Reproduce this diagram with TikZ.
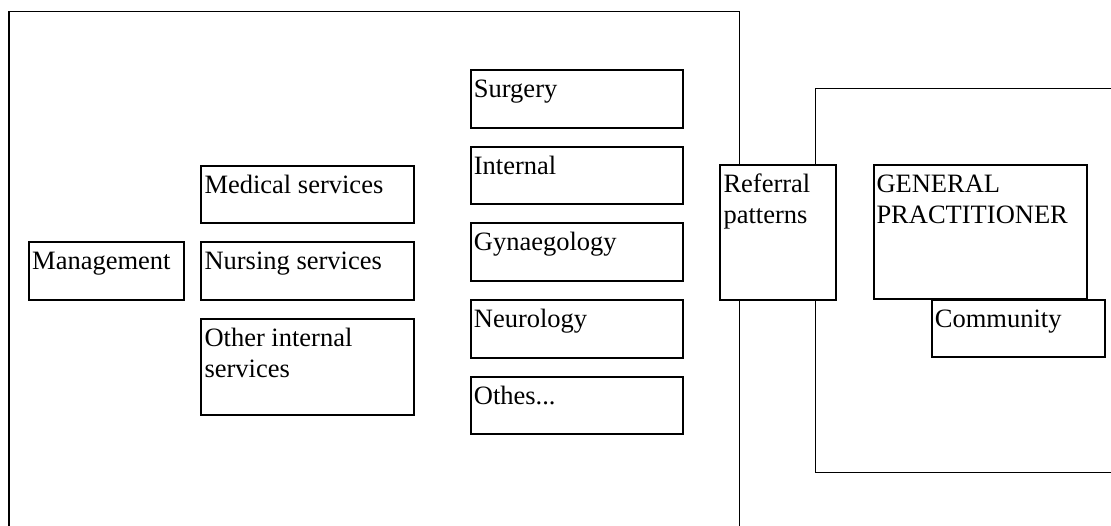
\documentclass[tikz,border=0pt]{standalone}
\usepackage{fontspec}
\setmainfont{Liberation Serif}
\begin{document}
\begin{tikzpicture}[x=1pt,y=-1pt,
  frame/.style={draw, line width=1.5pt},
  box/.style={draw, line width=2pt, fill=white, inner sep=0pt, anchor=north west},
  txt/.style={anchor=base west, inner sep=0pt, align=left, font=\fontsize{26.5}{31}\selectfont}]
\useasboundingbox (0,0) rectangle (1111,525);
\clip (0,0) rectangle (1111,525);
% hospital and primary-care frames, running past the page edges
\draw[frame] (9,11.7) rectangle (739.3,560);
\draw[frame] (815.7,88.3) rectangle (1150,472.3);
% left column
\node[box, minimum width=154.7, minimum height=57.7] (mgmt) at (28,241.3) {};
\node[box, minimum width=213, minimum height=57.3] (med) at (200.3,165) {};
\node[box, minimum width=213, minimum height=57.7] (nurs) at (200.3,241.3) {};
\node[box, minimum width=213, minimum height=96.3] (oth) at (200.3,318) {};
% specialties
\node[box, minimum width=212.3, minimum height=57.7] (surg) at (469.7,69) {};
\node[box, minimum width=212.3, minimum height=57.7] (intl) at (469.7,145.7) {};
\node[box, minimum width=212.3, minimum height=57.7] (gyn) at (469.7,222.3) {};
\node[box, minimum width=212.3, minimum height=57.7] (neur) at (469.7,299) {};
\node[box, minimum width=212.3, minimum height=57.7] (othes) at (469.7,375.7) {};
% interface and general practice
\node[box, minimum width=116, minimum height=135] (ref) at (719.3,164.3) {};
\node[box, minimum width=212.4, minimum height=134] (gp) at (873.3,164.3) {};
\node[box, minimum width=173.6, minimum height=57.3] (comm) at (930.7,299) {};
% labels (a two-line label sits on the baseline of its second line)
\node[txt] (mgmtt) at ([shift={(4,28.5)}]mgmt.north west) {Management};
\node[txt] (medt) at ([shift={(4,28.5)}]med.north west) {Medical services};
\node[txt] (nurst) at ([shift={(4,28.5)}]nurs.north west) {Nursing services};
\node[txt] (otht) at ([shift={(4,59.5)}]oth.north west) {Other internal\\services};
\node[txt] (surgt) at ([shift={(4,28.5)}]surg.north west) {Surgery};
\node[txt] (intlt) at ([shift={(4,28.5)}]intl.north west) {Internal};
\node[txt] (gynt) at ([shift={(4,28.5)}]gyn.north west) {Gynaegology};
\node[txt] (neurt) at ([shift={(4,28.5)}]neur.north west) {Neurology};
\node[txt] (othest) at ([shift={(4,28.5)}]othes.north west) {Othes...};
\node[txt] (reft) at ([shift={(4,59.5)}]ref.north west) {Referral\\patterns};
\node[txt] (gpt) at ([shift={(3,59.5)}]gp.north west) {GENERAL\\PRACTITIONER};
\node[txt] (commt) at ([shift={(4,28.5)}]comm.north west) {Community};
\end{tikzpicture}
\end{document}
